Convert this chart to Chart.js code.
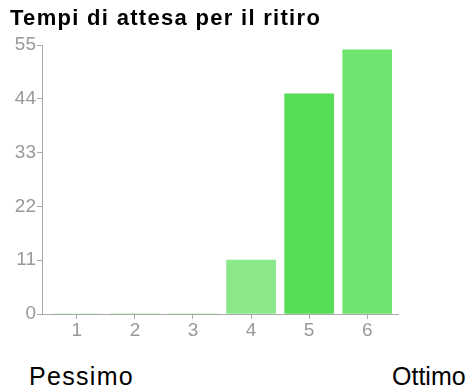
<!DOCTYPE html>
<html>
<head>
<meta charset="utf-8">
<script src="https://cdn.jsdelivr.net/npm/chart.js@4"></script>
<style>
  body { margin: 0; background: #fff; font-family: "Liberation Sans", Arial, sans-serif; }
  #wrap { position: absolute; left: 0; top: 0; width: 470px; height: 345px; }
  #title { position: absolute; left: 10px; top: 5px; font-size: 22px; font-weight: bold; color: #000; letter-spacing: 1.3px; white-space: nowrap; }
  .end { position: absolute; top: 362px; font-size: 25px; line-height: 28px; color: #000; white-space: nowrap; }
</style>
</head>
<body>
<div id="wrap"><canvas id="chart"></canvas></div>
<div id="title">Tempi di attesa per il ritiro</div>
<div class="end" style="left:29px; letter-spacing: 1.3px">Pessimo</div>
<div class="end" style="left:392px">Ottimo</div>
<script>
const categories = [1, 2, 3, 4, 5, 6];
const counts = [0, 0, 0, 11, 45, 54];
const barColors = ['#8ae88a', '#55dd55', '#70e470', '#8ae88a', '#55dd55', '#70e470'];
const yTicks = [0, 11, 22, 33, 44, 55];

const axisColor = '#aaaaaa';
const labelColor = '#999999';
const tickFont = { family: 'Liberation Sans', size: 19 };

const ctx = document.getElementById('chart').getContext('2d');
new Chart(ctx, {
    type: 'bar',
    data: {
        datasets: [{
            data: categories.map((c, i) => ({ x: c, y: counts[i] })),
            backgroundColor: barColors,
            borderWidth: 0,
            barThickness: 49
        }]
    },
    options: {
        responsive: true,
        maintainAspectRatio: false,
        animation: false,
        layout: { padding: { left: 0, right: 72, top: 45, bottom: 1 } },
        plugins: { legend: { display: false }, tooltip: { enabled: false } },
        scales: {
            x: {
                type: 'linear',
                offset: false,
                min: 0.4,
                max: 6.53,
                afterBuildTicks: scale => { scale.ticks = categories.map(v => ({ value: v })); },
                afterFit: scale => { scale.height = 30; },
                grid: { offset: false, drawOnChartArea: false, drawTicks: true, tickLength: 5, color: axisColor },
                border: { display: true, color: axisColor },
                ticks: { color: labelColor, padding: 0, font: tickFont }
            },
            y: {
                min: 0,
                max: 55,
                afterBuildTicks: scale => { scale.ticks = yTicks.map(v => ({ value: v })); },
                afterFit: scale => { scale.width = 42; },
                grid: { drawOnChartArea: false, drawTicks: true, tickLength: 5, color: axisColor },
                border: { display: true, color: axisColor },
                ticks: { color: labelColor, padding: 1, font: tickFont }
            }
        }
    }
});
</script>
</body>
</html>
